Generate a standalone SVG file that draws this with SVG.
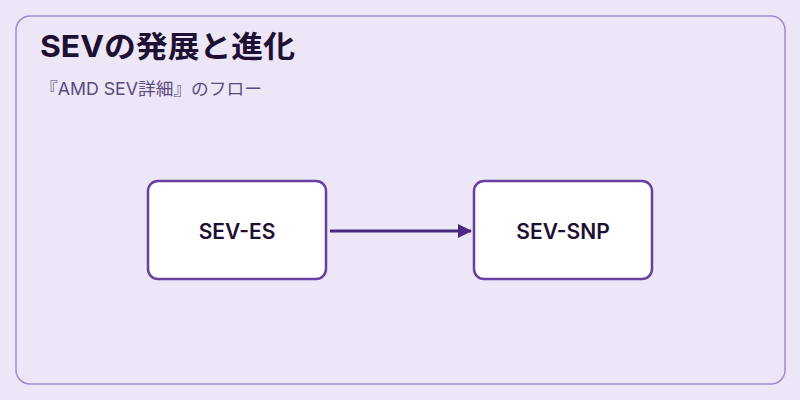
<svg xmlns="http://www.w3.org/2000/svg" width="800" height="400" viewBox="0 0 800 400">
<style>
.node{fill:#ffffff;stroke:#6a3fa0;stroke-width:2.5}
.lbl{font-family:Inter,"Noto Sans CJK JP",sans-serif;font-size:21px;font-weight:600;fill:#1e1033;text-anchor:middle}
</style>
<defs><marker id="ah" markerWidth="14" markerHeight="14" refX="13" refY="7" orient="auto" markerUnits="userSpaceOnUse"><path d="M0,0 L14,7 L0,14 Z" fill="#4a2a80"/></marker></defs>
<rect width="800" height="400" fill="#ede6f6"/>
<rect x="16" y="16" width="769" height="368" rx="14" fill="#ede6f6" stroke="#a58ad0" stroke-width="1.5"/>
<text x="40" y="57" font-family="Inter,'Noto Sans CJK JP',sans-serif" font-size="30" font-weight="700" fill="#1e1033" textLength="255" lengthAdjust="spacingAndGlyphs">SEVの発展と進化</text>
<text x="40" y="95" font-family="Inter,'Noto Sans CJK JP',sans-serif" font-size="17" fill="#5a4a80" textLength="222" lengthAdjust="spacingAndGlyphs">『AMD SEV詳細』のフロー</text>
<g id="connectors"><line x1="330" y1="231" x2="471" y2="231" stroke="#4a2a80" stroke-width="3" marker-end="url(#ah)"/></g>
<g id="sev-es"><rect class="node" x="148" y="181" width="178" height="98" rx="10"/><text class="lbl" x="237" y="239">SEV-ES</text></g>
<g id="sev-snp"><rect class="node" x="474" y="181" width="178" height="98" rx="10"/><text class="lbl" x="563" y="239">SEV-SNP</text></g>
</svg>
